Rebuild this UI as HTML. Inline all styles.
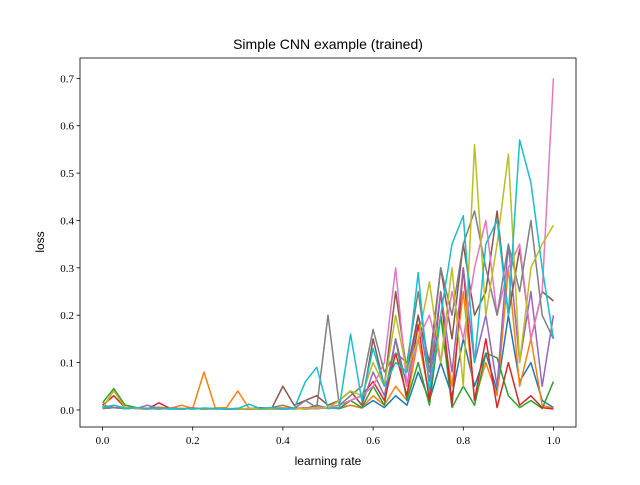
<!DOCTYPE html>
<html><head><meta charset="utf-8">
<style>
html,body{margin:0;padding:0;background:#fff;}
svg text{font-family:"Liberation Sans",sans-serif;}
.tick{font-family:"Liberation Serif",serif;font-size:11px;}
</style></head>
<body>
<svg id="chart" width="640" height="480" xmlns="http://www.w3.org/2000/svg">
<rect x="0" y="0" width="640" height="480" fill="#fff"/>
<text x="328" y="49" font-size="14" text-anchor="middle">Simple CNN example (trained)</text>
<text x="328" y="465" font-size="12" text-anchor="middle">learning rate</text>
<text x="44" y="242" font-size="12" text-anchor="middle" transform="rotate(-90 44 242)">loss</text>
<g id="series"></g>
<g id="axes"></g>
</svg>
<script>
const xTicks=[0,0.2,0.4,0.6,0.8,1.0];
const xTickLabels=["0.0","0.2","0.4","0.6","0.8","1.0"];
const yTicks=[0,0.1,0.2,0.3,0.4,0.5,0.6,0.7];
const yTickLabels=["0.0","0.1","0.2","0.3","0.4","0.5","0.6","0.7"];
const colors=["#1f77b4","#ff7f0e","#2ca02c","#d62728","#9467bd","#8c564b","#e377c2","#7f7f7f","#bcbd22","#17becf"];
const s0=[0.01,0.005,0.003,0.004,0.002,0.003,0.002,0.002,0.003,0.002,0.002,0.002,0.003,0.002,0.002,0.002,0.003,0.004,0.002,0.003,0.005,0.003,0.01,0.004,0.02,0.005,0.03,0.01,0.08,0.02,0.1,0.03,0.15,0.05,0.12,0.04,0.2,0.06,0.1,0.02,0.005];
const s1=[0.005,0.04,0.01,0.005,0.003,0.006,0.003,0.01,0.003,0.08,0.004,0.005,0.04,0.003,0.004,0.003,0.005,0.003,0.004,0.006,0.003,0.005,0.01,0.005,0.03,0.01,0.05,0.02,0.15,0.03,0.2,0.05,0.25,0.02,0.1,0.03,0.3,0.05,0.15,0.01,0.003];
const s2=[0.015,0.045,0.01,0.005,0.003,0.004,0.003,0.002,0.003,0.002,0.003,0.002,0.002,0.003,0.002,0.002,0.002,0.003,0.002,0.003,0.004,0.003,0.02,0.005,0.05,0.01,0.15,0.02,0.1,0.01,0.2,0.005,0.05,0.01,0.12,0.11,0.03,0.005,0.02,0.003,0.06];
const s3=[0.01,0.03,0.005,0.003,0.002,0.015,0.003,0.002,0.004,0.002,0.003,0.002,0.002,0.002,0.003,0.002,0.002,0.003,0.004,0.003,0.005,0.01,0.02,0.03,0.06,0.02,0.12,0.03,0.18,0.02,0.25,0.01,0.3,0.02,0.15,0.005,0.1,0.01,0.03,0.005,0.002];
const s4=[0.005,0.01,0.004,0.003,0.01,0.003,0.004,0.003,0.002,0.003,0.002,0.003,0.002,0.002,0.002,0.003,0.002,0.002,0.003,0.01,0.004,0.02,0.04,0.01,0.08,0.03,0.15,0.05,0.2,0.06,0.25,0.08,0.3,0.1,0.2,0.05,0.35,0.1,0.25,0.05,0.2];
const s5=[0.003,0.005,0.003,0.004,0.003,0.002,0.003,0.002,0.003,0.002,0.003,0.002,0.003,0.002,0.005,0.003,0.05,0.01,0.02,0.03,0.01,0.02,0.04,0.01,0.15,0.05,0.25,0.08,0.2,0.1,0.3,0.15,0.35,0.2,0.25,0.42,0.2,0.34,0.15,0.25,0.23];
const s6=[0.003,0.005,0.003,0.004,0.003,0.002,0.003,0.002,0.003,0.002,0.003,0.002,0.002,0.002,0.003,0.002,0.002,0.003,0.002,0.003,0.005,0.01,0.02,0.03,0.05,0.1,0.3,0.05,0.15,0.2,0.1,0.25,0.15,0.3,0.4,0.2,0.3,0.35,0.15,0.25,0.7];
const s7=[0.003,0.005,0.003,0.004,0.003,0.002,0.003,0.002,0.003,0.002,0.003,0.002,0.003,0.002,0.003,0.005,0.01,0.003,0.02,0.005,0.2,0.01,0.03,0.05,0.17,0.08,0.12,0.1,0.25,0.08,0.3,0.2,0.35,0.42,0.3,0.2,0.35,0.25,0.4,0.2,0.15];
const s8=[0.004,0.04,0.005,0.003,0.004,0.003,0.002,0.003,0.002,0.003,0.002,0.003,0.002,0.003,0.002,0.002,0.003,0.002,0.003,0.005,0.004,0.02,0.04,0.03,0.1,0.05,0.2,0.08,0.15,0.27,0.1,0.3,0.05,0.56,0.2,0.35,0.54,0.1,0.3,0.35,0.39];
const s9=[0.005,0.01,0.003,0.005,0.003,0.004,0.002,0.003,0.002,0.004,0.003,0.002,0.003,0.012,0.003,0.005,0.002,0.003,0.06,0.09,0.003,0.005,0.16,0.02,0.13,0.05,0.1,0.08,0.29,0.04,0.2,0.35,0.41,0.1,0.35,0.4,0.2,0.57,0.48,0.3,0.15];
const allSeries=[s0,s1,s2,s3,s4,s5,s6,s7,s8,s9];

const L=80,R=576,T=58,B=427;
const xMin=-0.05,xMax=1.05,yMin=-0.036,yMax=0.743;
function xs(v){return L+(v-xMin)/(xMax-xMin)*(R-L);}
function ys(v){return B-(v-yMin)/(yMax-yMin)*(B-T);}
const NS="http://www.w3.org/2000/svg";
const sg=document.getElementById('series');
allSeries.forEach((arr,k)=>{
  const n=arr.length;
  const d=arr.map((v,i)=>(i?'L':'M')+xs(i/(n-1)).toFixed(2)+','+ys(v).toFixed(2)).join(' ');
  const p=document.createElementNS(NS,'path');
  p.setAttribute('d',d);p.setAttribute('fill','none');p.setAttribute('stroke',colors[k]);
  p.setAttribute('stroke-width','1.5');p.setAttribute('stroke-linejoin','round');
  
  
  sg.appendChild(p);
});
const ag=document.getElementById('axes');
const frame=document.createElementNS(NS,'rect');
frame.setAttribute('x',L);frame.setAttribute('y',T);frame.setAttribute('width',R-L);frame.setAttribute('height',B-T);
frame.setAttribute('fill','none');frame.setAttribute('stroke','#000');frame.setAttribute('stroke-width','0.8');


ag.appendChild(frame);
xTicks.forEach((v,i)=>{
  const x=xs(v);
  const l=document.createElementNS(NS,'line');
  l.setAttribute('x1',x);l.setAttribute('x2',x);l.setAttribute('y1',B);l.setAttribute('y2',B+3.5);l.setAttribute('stroke','#000');l.setAttribute('stroke-width','0.8');
  
  
  ag.appendChild(l);
  const t=document.createElementNS(NS,'text');
  t.setAttribute('x',x);t.setAttribute('y',B+17);t.setAttribute('text-anchor','middle');t.setAttribute('class','tick');
  t.textContent=xTickLabels[i];
  
  
  ag.appendChild(t);
});
yTicks.forEach((v,i)=>{
  const y=ys(v);
  const l=document.createElementNS(NS,'line');
  l.setAttribute('x1',L-3.5);l.setAttribute('x2',L);l.setAttribute('y1',y);l.setAttribute('y2',y);l.setAttribute('stroke','#000');l.setAttribute('stroke-width','0.8');
  
  
  ag.appendChild(l);
  const t=document.createElementNS(NS,'text');
  t.setAttribute('x',L-6);t.setAttribute('y',y+4);t.setAttribute('text-anchor','end');t.setAttribute('class','tick');
  t.textContent=yTickLabels[i];
  
  
  ag.appendChild(t);
});
</script>
</body></html>
